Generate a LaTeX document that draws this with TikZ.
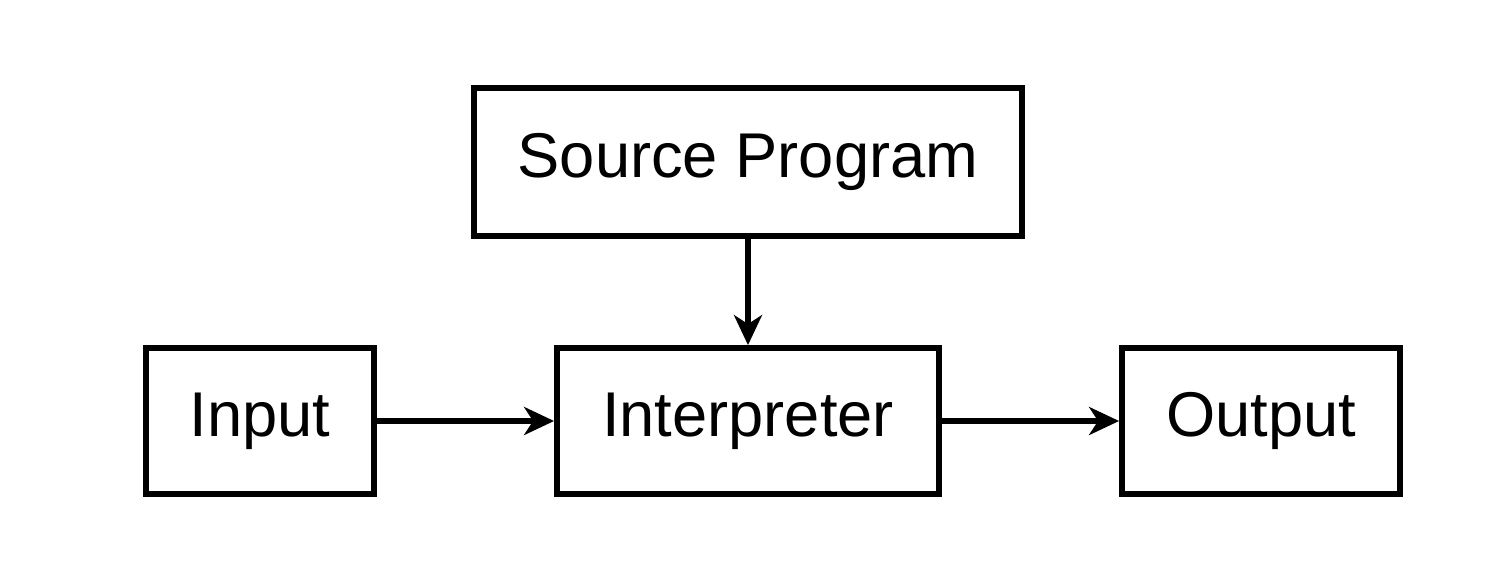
\documentclass[tikz,border=0pt]{standalone}
\usepackage{fontspec}
\setmainfont{Liberation Sans}
\usetikzlibrary{arrows.meta}
\begin{document}
\begin{tikzpicture}[x=0.02cm,y=-0.02cm,
  block/.style={draw, line width=3.3pt, inner sep=0pt, font=\fontsize{36}{42}\selectfont},
  flow/.style={line width=2.9pt, -{Stealth[length=30*0.02cm, width=28*0.02cm, inset=9*0.02cm]}}]
  \useasboundingbox (0,0) rectangle (1492,582);
  \node[block, minimum width=548*0.02cm, minimum height=148*0.02cm] (src) at (748,162) {Source Program};
  \node[block, minimum width=228*0.02cm, minimum height=146*0.02cm] (in) at (260,421) {Input};
  \node[block, minimum width=382*0.02cm, minimum height=146*0.02cm] (interp) at (748,421) {Interpreter};
  \node[block, minimum width=278*0.02cm, minimum height=146*0.02cm] (out) at (1261,421) {Output};
  \draw[flow] (src) -- (interp);
  \draw[flow] (in) -- (interp);
  \draw[flow] (interp) -- (out);
\end{tikzpicture}
\end{document}
